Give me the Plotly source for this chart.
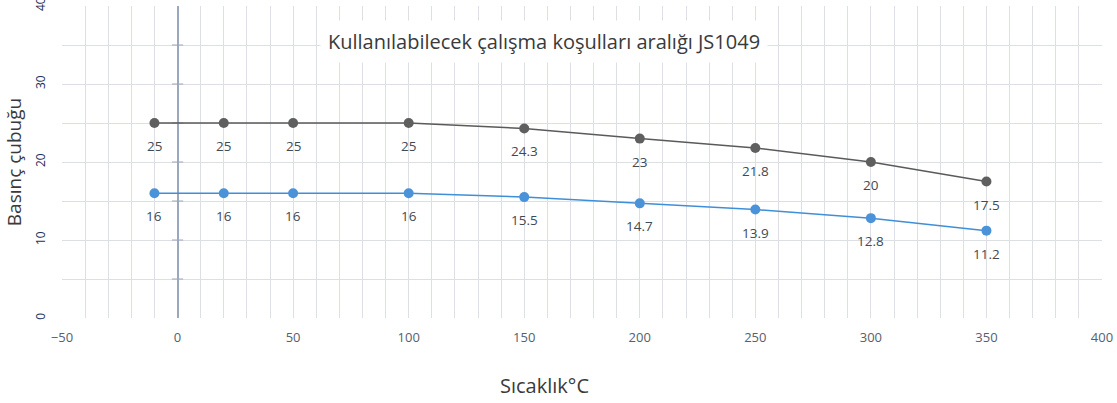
import plotly.graph_objects as go

temps = [-10, 20, 50, 100, 150, 200, 250, 300, 350]
upper = [25, 25, 25, 25, 24.3, 23, 21.8, 20, 17.5]
lower = [16, 16, 16, 16, 15.5, 14.7, 13.9, 12.8, 11.2]
x_ticks = [-50, 0, 50, 100, 150, 200, 250, 300, 350, 400]
y_ticks = [0, 10, 20, 30, 40]

title = "Kullanılabilecek çalışma koşulları aralığı JS1049"
x_title = "Sıcaklık°C"
y_title = "Basınç çubuğu"

grid = "#dcdfe4"
fig = go.Figure()

# y-axis drawn at x=0 with small cross ticks
fig.add_trace(go.Scatter(x=[0] * 7, y=[5, 10, 15, 20, 25, 30, 35], mode="markers",
                         marker=dict(symbol="line-ew", size=8, line=dict(color="#9aa8bd", width=1)),
                         hoverinfo="skip", showlegend=False))

fig.add_trace(go.Scatter(x=temps, y=upper, mode="lines+markers",
                         line=dict(color="#5a5a5a", width=1.5),
                         marker=dict(color="#5f5f5f", size=10), showlegend=False))
fig.add_trace(go.Scatter(x=temps, y=lower, mode="lines+markers",
                         line=dict(color="#3f8fd8", width=1.5),
                         marker=dict(color="#4a93d9", size=10), showlegend=False))

for xs, ys in ((temps, upper), (temps, lower)):
    for xv, yv in zip(xs, ys):
        fig.add_annotation(x=xv, y=yv, text=str(yv), showarrow=False, yshift=-23,
                           font=dict(family="Open Sans, Liberation Sans", size=13.5, color="#404a55"))

fig.add_annotation(x=0.4635, xref="paper", y=35.4, text=title, showarrow=False,
                   bgcolor="white", borderpad=7,
                   font=dict(family="Open Sans", size=20, color="#3a3a3a"))

# x-axis title (centred under the chart title as in the reference)
fig.add_annotation(x=0.4635, xref="paper", y=-0.215, yref="paper", yanchor="middle",
                   text=x_title, showarrow=False,
                   font=dict(family="Open Sans", size=20, color="#3a3a3a"))

fig.update_layout(
    width=1117, height=403,
    margin=dict(l=62, r=15, t=6, b=85),
    plot_bgcolor="white", paper_bgcolor="white",
    xaxis=dict(range=[-50, 400], tickvals=x_ticks, showgrid=True, gridcolor=grid, gridwidth=1,
               minor=dict(dtick=10, showgrid=True, gridcolor=grid, gridwidth=1),
               zeroline=True, zerolinecolor="#9aa8bd", zerolinewidth=1.5,
               showline=False, ticks="", automargin=False, ticklabelstandoff=10,
               ticklabeloverflow="allow",
               tickfont=dict(family="Open Sans, Liberation Sans", size=13, color="#55606e")),
    yaxis=dict(range=[0, 40], tickvals=y_ticks, showgrid=True, gridcolor=grid, gridwidth=1,
               minor=dict(dtick=5, showgrid=True, gridcolor=grid, gridwidth=1),
               zeroline=False, showline=False, ticks="", tickangle=-90, automargin=False,
               ticklabelstandoff=14, ticklabeloverflow="allow",
               tickfont=dict(family="Open Sans, Liberation Sans", size=12, color="#22305a"),
               title=dict(text=y_title, standoff=4,
                          font=dict(family="Open Sans", size=19, color="#3a3a3a"))),
)

fig.write_html("out.html", config={"displayModeBar": False},
               post_script="document.body.style.margin='0';")
